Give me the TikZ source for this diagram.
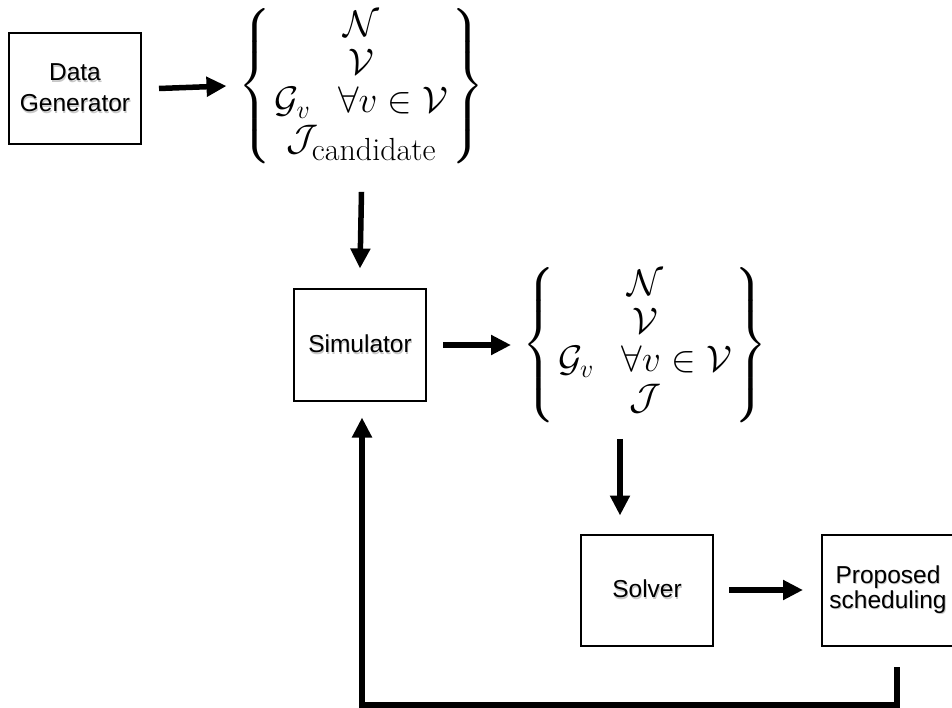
\RequirePackage{fix-cm}
\documentclass[tikz,border=0pt]{standalone}
\usepackage{amsmath, amssymb}
\usepackage[no-math]{fontspec}
\usetikzlibrary{arrows.meta}
\newfontfamily\blkfont{Liberation Sans}
\setlength{\arraycolsep}{3pt}

% label with a soft drop shadow
\newcommand{\shadowed}[1]{\leavevmode\rlap{\raisebox{-1.6pt}{\hspace{0.9pt}\textcolor{black!22}{#1}}}#1}
\newcommand{\subtext}[1]{\text{\fontsize{32}{32}\selectfont #1}}

\begin{document}
\begin{tikzpicture}[x=1pt,y=-1pt,
  >={Triangle[length=20pt,width=19pt]},
  blk/.style={draw,line width=2pt,minimum width=132pt,minimum height=111pt,
    align=center,font=\blkfont\fontsize{24.5}{27}\selectfont},
  sets/.style={inner sep=0pt,font=\fontsize{37}{38}\selectfont},
  flow/.style={->,line width=5.5pt}]
\useasboundingbox (0,0) rectangle (952,708);
\node[blk] (gen) at (75,88.5) {\shadowed{Data}\\[4pt]\shadowed{Generator}};
\node[sets] (raw) at (361.5,86) {$\left\{\begin{array}{c}
  \mathcal{N}\\ \mathcal{V}\\ \mathcal{G}_v\hspace{0.75em}\forall v\in\mathcal{V}\\
  \mathcal{J}_{\subtext{candidate}}\end{array}\right\}$};
\node[blk] (sim) at (360,345) {\shadowed{Simulator}};
\node[sets] (inst) at (645,345) {$\left\{\begin{array}{c}
  \mathcal{N}\\ \mathcal{V}\\ \mathcal{G}_v\hspace{0.75em}\forall v\in\mathcal{V}\\
  \mathcal{J}\end{array}\right\}$};
\node[blk] (sol) at (647,590) {\shadowed{Solver}};
\node[blk] (prop) at (888,590) {\shadowed{Proposed}\\[-2pt]\shadowed{scheduling}};

\draw[flow] ([xshift=17]gen.east) -- ([xshift=-12]raw.west);
\draw[flow] ([yshift=-28]raw.south) -- ([yshift=20]sim.north);
\draw[flow] ([xshift=16]sim.east) -- ([xshift=-11]inst.west);
\draw[flow] ([xshift=-25,yshift=-16]inst.south) -- ([xshift=-27,yshift=18]sol.north);
\draw[flow] ([xshift=15]sol.east) -- ([xshift=-18]prop.west);

% feedback loop back into the simulator
\coordinate (fb) at (897,667);
\draw[flow] (fb) -- (897,705) -| ([xshift=2,yshift=-16]sim.south);
\end{tikzpicture}
\end{document}
